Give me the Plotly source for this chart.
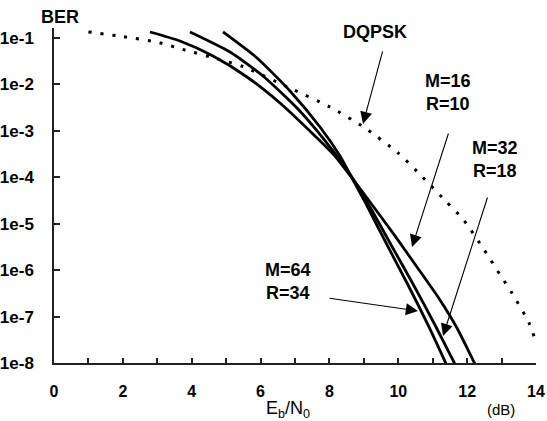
import math
import plotly.graph_objects as go

# ---- data (Eb/N0 in dB, BER) ----
ebn0_dqpsk = [1.0, 2.0, 3.0, 3.8, 4.8, 5.5, 6.85, 8.0, 9.0, 10.0, 10.7, 11.4, 11.9, 12.5, 13.0, 13.3, 13.8, 14.0]
ber_dqpsk = [0.135, 0.107, 0.0813, 0.0550, 0.0347, 0.0240, 8.32e-3, 3.31e-3, 1.20e-3, 3.31e-4,
             1.02e-4, 2.95e-5, 1.20e-5, 2.69e-6, 7.08e-7, 3.24e-7, 7.24e-8, 2.82e-8]

ebn0_m16 = [2.788, 3.660, 4.618, 5.606, 6.564, 7.522, 8.161, 8.655, 9.265, 9.904, 10.543, 11.211, 11.705, 12.170, 12.286]
ber_m16 = [0.1346, 0.0861, 0.04093, 0.01445, 3.98e-3, 8.55e-4, 2.88e-4, 9.66e-5, 2.41e-5, 5.45e-6,
           1.17e-6, 2.28e-7, 5.68e-8, 1.16e-8, 7.8e-9]

ebn0_m32 = [3.950, 5.112, 6.070, 7.058, 7.813, 8.452, 8.742, 9.178, 9.759, 10.427, 11.066, 11.705]
ber_m32 = [0.1346, 0.0499, 0.0152, 3.1e-3, 7.0e-4, 1.67e-4, 7.92e-5, 2.29e-5, 3.85e-6, 5.04e-7, 6.59e-8, 7.8e-9]

ebn0_m64 = [4.909, 5.896, 6.854, 7.726, 8.307, 8.655, 9.033, 9.614, 10.253, 10.863, 11.444]
ber_m64 = [0.1346, 0.0371, 7.23e-3, 1.21e-3, 2.88e-4, 9.66e-5, 2.94e-5, 4.25e-6, 5.28e-7, 6.59e-8, 7.8e-9]

x_ticks = list(range(0, 15))
x_ticktext = [str(v) if v % 2 == 0 else "" for v in x_ticks]
y_ticks = [1e-1, 1e-2, 1e-3, 1e-4, 1e-5, 1e-6, 1e-7, 1e-8]
y_ticktext = ["1e-1", "1e-2", "1e-3", "1e-4", "1e-5", "1e-6", "1e-7", "1e-8"]

# labels: (text, x, BER)
labels = [
    ("DQPSK", 9.32, 0.1346),
    ("M=16<br>R=10", 11.44, 6.70e-3),
    ("M=32<br>R=18", 12.81, 2.42e-4),
    ("M=64<br>R=34", 6.80, 5.69e-7),
]
# arrows: (tail x, tail BER, tip x, tip BER)
arrows = [
    (9.556, 5.52e-2, 8.975, 1.41e-3),
    (11.47, 9.44e-4, 10.40, 3.16e-6),
    (12.605, 3.95e-5, 11.30, 3.82e-8),
    (7.958, 2.51e-7, 10.57, 1.32e-7),
]

Y_TOP_LOG = -0.785
Y_BOT_LOG = -8.0
FONT = "Liberation Sans, Arial, sans-serif"

fig = go.Figure()
fig.add_trace(go.Scatter(x=ebn0_dqpsk, y=ber_dqpsk, mode="lines",
                         line=dict(color="black", width=3, dash="3px,9px", shape="spline", smoothing=0.6)))
for xs, ys in [(ebn0_m16, ber_m16), (ebn0_m32, ber_m32), (ebn0_m64, ber_m64)]:
    fig.add_trace(go.Scatter(x=xs, y=ys, mode="lines",
                             line=dict(color="black", width=2.8, shape="spline", smoothing=0.6)))

annotations = []
for text, x, y in labels:
    annotations.append(dict(text=text, x=x, y=math.log10(y), xref="x", yref="y", showarrow=False,
                            font=dict(family=FONT, size=18, color="black", weight="bold"),
                            xanchor="center", yanchor="middle", align="center"))
for ax, ay, x, y in arrows:
    annotations.append(dict(text="", x=x, y=math.log10(y), ax=ax, ay=math.log10(ay),
                            xref="x", yref="y", axref="x", ayref="y", showarrow=True,
                            arrowhead=2, arrowsize=2.2, arrowwidth=1.1, arrowcolor="black"))
annotations.append(dict(text="BER", x=0.0124, y=1, xref="paper", yref="paper", yshift=11,
                        showarrow=False, xanchor="center", yanchor="middle",
                        font=dict(family=FONT, size=18, color="black", weight="bold")))
annotations.append(dict(text="E<sub>b</sub>/N<sub>0</sub>", x=6.8, y=0, xref="x", yref="paper",
                        yshift=-46, showarrow=False, xanchor="center", yanchor="middle",
                        font=dict(family=FONT, size=18, color="black")))
annotations.append(dict(text="(dB)", x=12.98, y=0, xref="x", yref="paper",
                        yshift=-46, showarrow=False, xanchor="center", yanchor="middle",
                        font=dict(family=FONT, size=15, color="black")))

fig.update_layout(
    width=547, height=421, autosize=False,
    margin=dict(l=54, r=11, t=28, b=58, autoexpand=False),
    paper_bgcolor="white", plot_bgcolor="white",
    showlegend=False,
    annotations=annotations,
    xaxis=dict(range=[0, 14], tickmode="array", tickvals=x_ticks, ticktext=x_ticktext,
               ticks="inside", ticklen=5, tickwidth=1.5, tickcolor="#222", automargin=False,
               showline=True, linecolor="#222", linewidth=1.5, showgrid=False, zeroline=False,
               tickfont=dict(family=FONT, size=16, color="black", weight="bold"),
               ticklabelstandoff=13),
    yaxis=dict(type="log", range=[Y_BOT_LOG, Y_TOP_LOG], tickmode="array", tickvals=y_ticks,
               ticktext=y_ticktext, automargin=False,
               ticks="inside", ticklen=6, tickwidth=1.5, tickcolor="#222",
               showline=True, linecolor="#222", linewidth=1.5,
               showgrid=False, zeroline=False,
               tickfont=dict(family=FONT, size=17, color="black", weight="bold"),
               ticklabelstandoff=15),
)

fig.write_html("out.html", config={"displayModeBar": False},
               post_script="document.body.style.margin='0';")
